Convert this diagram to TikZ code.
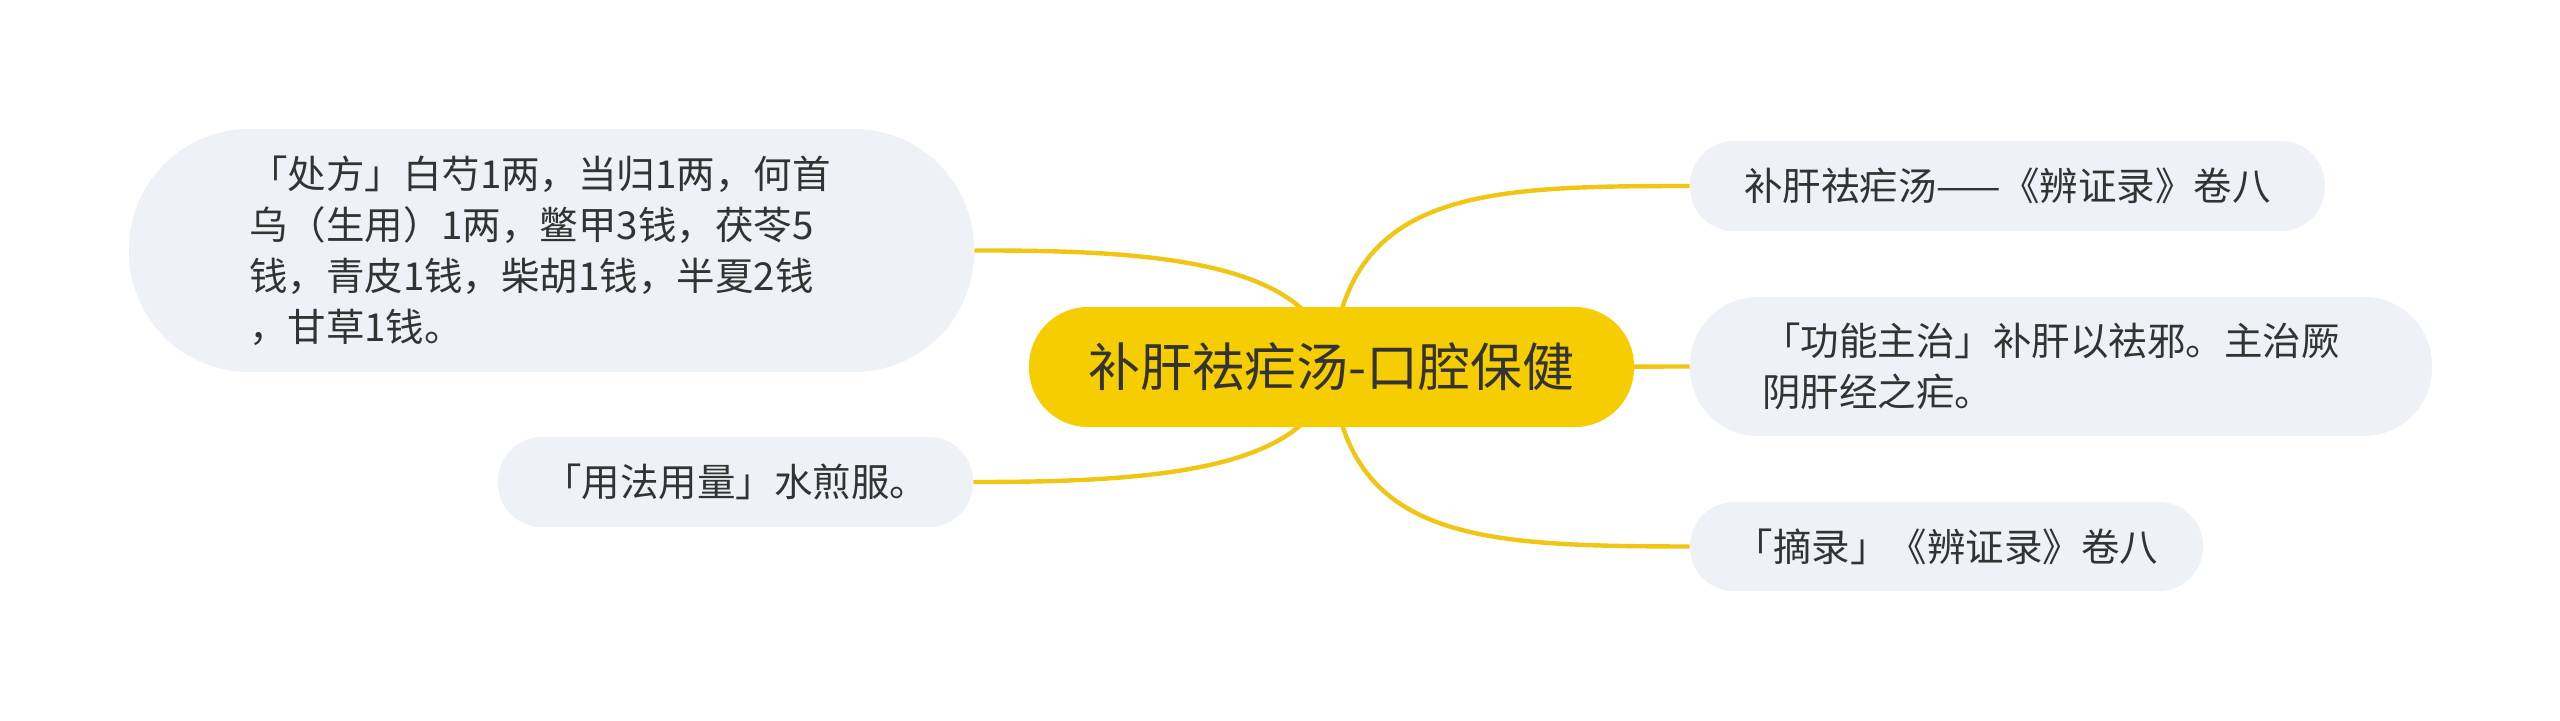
\documentclass[tikz,border=0pt]{standalone}
\usepackage{fontspec}
\setmainfont{Noto Sans CJK SC}
\usetikzlibrary{backgrounds}
\definecolor{linec}{HTML}{F0C514}
\definecolor{rootc}{HTML}{F5CD00}
\definecolor{leafc}{HTML}{EEF1F5}
\definecolor{txtc}{HTML}{333333}
\begin{document}
\begin{tikzpicture}[x=0.5pt,y=-0.5pt,
  leaf/.style={fill=leafc, text=txtc, inner sep=0pt, align=left,
    font=\fontsize{19.25pt}{25.5pt}\selectfont},
  root/.style={fill=rootc, text=txtc, inner sep=0pt, align=center,
    font=\fontsize{26pt}{30pt}\selectfont},
  conn/.style={draw=linec, line width=2.2pt}]
\useasboundingbox (0,0) rectangle (2560,720);
\node[root, minimum width=302.5pt, minimum height=60pt, rounded corners=29.5pt] (c) at (1331.5,367) {补肝祛疟汤-口腔保健};
\node[leaf, minimum width=422.5pt, minimum height=121.5pt, rounded corners=60pt, text width=302.5pt] (n1) at (551.5,250.5)
  {「处方」白芍1两，当归1两，何首\\乌（生用）1两，鳖甲3钱，茯苓5\\钱，青皮1钱，柴胡1钱，半夏2钱\\，甘草1钱。};
\node[leaf, minimum width=237.5pt, minimum height=45pt, rounded corners=22pt] (n2) at (735.5,482) {「用法用量」水煎服。};
\node[leaf, minimum width=317.5pt, minimum height=45pt, rounded corners=22pt] (r1) at (2007.5,186) {补肝祛疟汤——《辨证录》卷八};
\node[leaf, minimum width=371pt, minimum height=69.5pt, rounded corners=34pt, text width=299pt] (r2) at (2061,366.5)
  {「功能主治」补肝以祛邪。主治厥\\阴肝经之疟。};
\node[leaf, minimum width=256.5pt, minimum height=44.5pt, rounded corners=22pt] (r3) at (1946.5,546.5) {「摘录」《辨证录》卷八};
\begin{scope}[on background layer]
\draw[conn] (c.center) .. controls (1320,260) and (1150,250) .. (n1.east);
\draw[conn] (c.center) .. controls (1320,472) and (1150,482) .. (n2.east);
\draw[conn] (c.center) .. controls (1345,190) and (1480,186) .. (r1.west);
\draw[conn] (c.center) -- (r2.west);
\draw[conn] (c.center) .. controls (1345,542) and (1480,546) .. (r3.west);
\end{scope}
\end{tikzpicture}
\end{document}
